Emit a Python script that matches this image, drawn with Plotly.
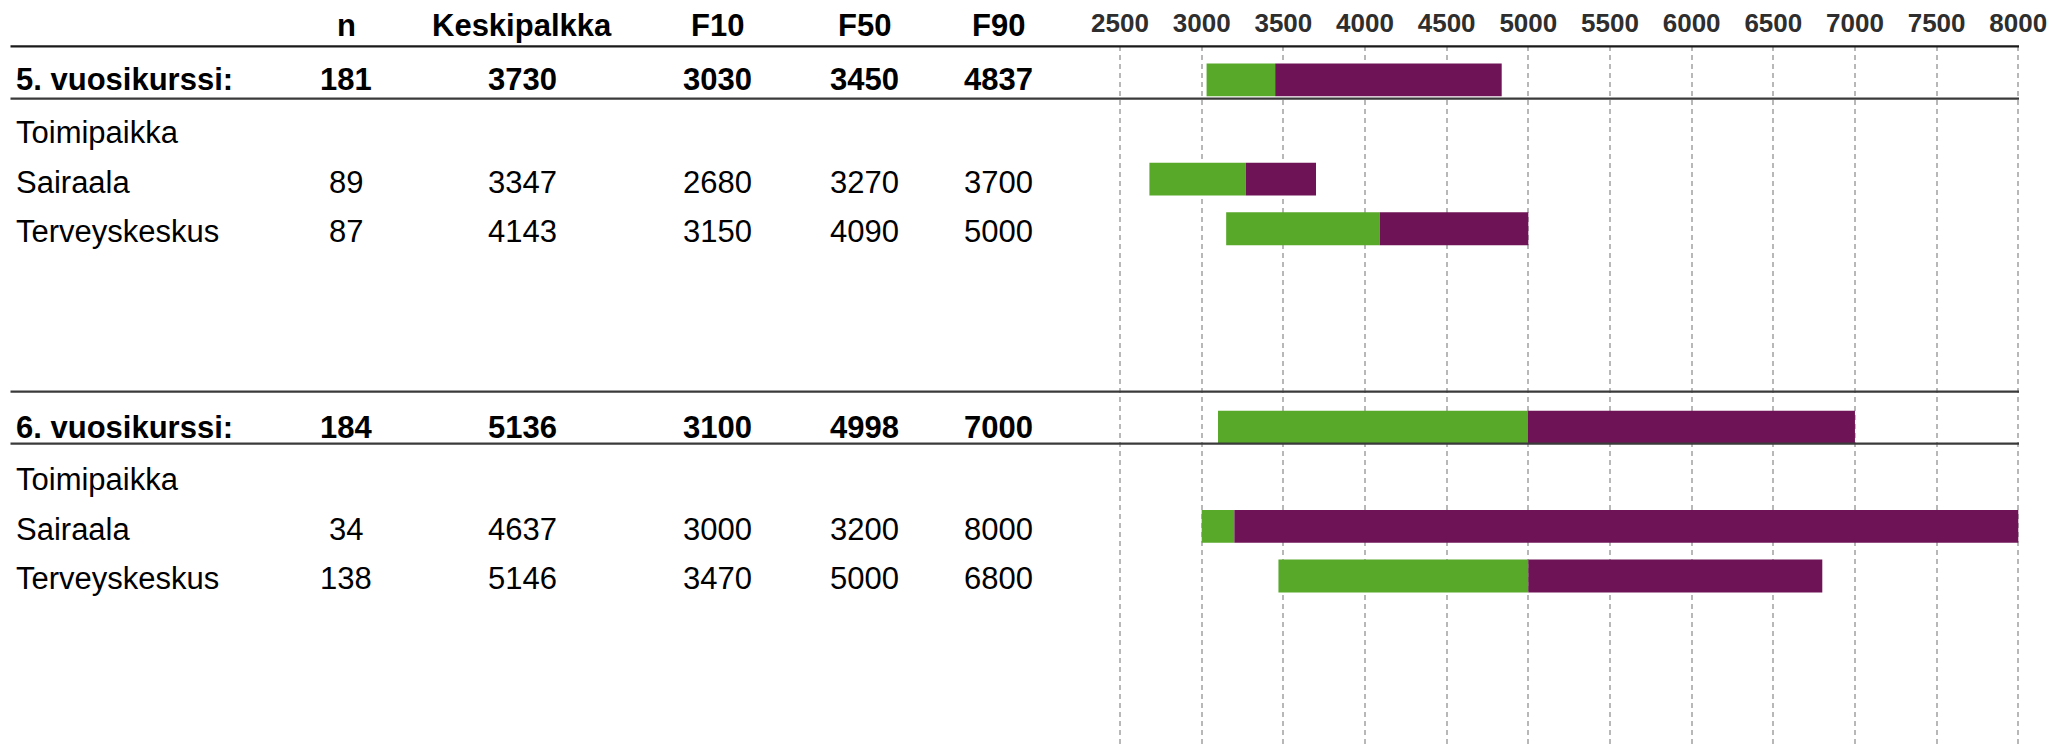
import plotly.graph_objects as go

# ---- data ----
row_labels = ["5. vuosikurssi:", "Toimipaikka", "Sairaala", "Terveyskeskus",
              "6. vuosikurssi:", "Toimipaikka", "Sairaala", "Terveyskeskus"]
row_pos = [0, 1, 2, 3, 7, 8, 9, 10]
row_bold = [True, False, False, False, True, False, False, False]
n_vals = [181, None, 89, 87, 184, None, 34, 138]
keskipalkka = [3730, None, 3347, 4143, 5136, None, 4637, 5146]
f10 = [3030, None, 2680, 3150, 3100, None, 3000, 3470]
f50 = [3450, None, 3270, 4090, 4998, None, 3200, 5000]
f90 = [4837, None, 3700, 5000, 7000, None, 8000, 6800]
columns = ["n", "Keskipalkka", "F10", "F50", "F90"]
tick_vals = [2500, 3000, 3500, 4000, 4500, 5000, 5500, 6000, 6500, 7000, 7500, 8000]

# ---- layout constants (page pixels; the page body adds an 8px offset) ----
OFF = 8
W, H = 2068 - OFF, 747 - OFF
L, R, T, B = 1100, 2040, 44, 747          # plot area in page pixels
PW, PH = R - L, B - T
FONT = "Liberation Sans, Arial, sans-serif"
GREEN = "#58A92A"
PURPLE = "#6E1456"


def px_x(px):
    return (px - L) / PW


def px_y(py):
    return 1 - (py - T) / PH


# bars
ys, b1, w1, b2, w2 = [], [], [], [], []
for y, a, m, c in zip(row_pos, f10, f50, f90):
    if a is None:
        continue
    ys.append(y)
    b1.append(a); w1.append(m - a)
    b2.append(m); w2.append(c - m)

fig = go.Figure()
fig.add_trace(go.Bar(y=ys, x=w1, base=b1, orientation="h", marker_color=GREEN,
                     width=0.663, marker_line_width=0, showlegend=False))
fig.add_trace(go.Bar(y=ys, x=w2, base=b2, orientation="h", marker_color=PURPLE,
                     width=0.663, marker_line_width=0, showlegend=False))

annotations = []
col_px = [346, 522, 717, 864.5, 998.5]
# header
for name, cx in zip(columns, col_px):
    annotations.append(dict(x=px_x(cx), y=px_y(23), xref="paper", yref="paper",
                            text=name, showarrow=False, xanchor="center", yanchor="middle",
                            font=dict(family=FONT, size=31, color="#000", weight="bold")))
# rows
for lab, y, bold, nv, kp, a, m, c in zip(row_labels, row_pos, row_bold, n_vals,
                                          keskipalkka, f10, f50, f90):
    fw = "bold" if bold else "normal"
    ysh = 0 if bold else -3
    annotations.append(dict(x=px_x(14), y=y, xref="paper", yref="y", text=lab,
                            showarrow=False, xanchor="left", yanchor="middle", yshift=ysh,
                            font=dict(family=FONT, size=31, color="#000", weight=fw)))
    for v, cx in zip([nv, kp, a, m, c], col_px):
        if v is None:
            continue
        annotations.append(dict(x=px_x(cx), y=y, xref="paper", yref="y", text=str(v),
                                showarrow=False, xanchor="center", yanchor="middle", yshift=ysh,
                                font=dict(family=FONT, size=31, color="#000", weight=fw)))

shapes = []
for py, col in [(44.3, "#1a1a1a"), (96.7, "#3a3a3a"), (390.7, "#3a3a3a"), (442.7, "#3a3a3a")]:
    shapes.append(dict(type="line", xref="paper", yref="paper",
                       x0=px_x(10.5), x1=px_x(2019), y0=px_y(py), y1=px_y(py),
                       line=dict(color=col, width=2.2), layer="above"))

x_per_px = 500 / 81.6
x_min = 2500 - (1120 - L) * x_per_px
x_max = 8000 + (R - 2018.3) * x_per_px
row_px = 49.75
y_top = (T - 78) / row_px
y_bot = (B - 78) / row_px

fig.update_layout(
    width=W, height=H,
    margin=dict(l=L - OFF, r=2068 - R, t=T - OFF, b=747 - B, pad=0),
    paper_bgcolor="white", plot_bgcolor="white",
    barmode="overlay",
    annotations=annotations, shapes=shapes,
    xaxis=dict(range=[x_min, x_max], side="top", tickvals=tick_vals,
               ticktext=[str(v) for v in tick_vals], showgrid=True,
               gridcolor="#b8b8b8", gridwidth=1.6, griddash="5px,4px",
               zeroline=False, showline=False, ticks="", ticklabelstandoff=8,
               tickfont=dict(family=FONT, size=26, color="#2e2e2e", weight="bold")),
    yaxis=dict(range=[y_bot, y_top], showgrid=False, zeroline=False,
               showticklabels=False, showline=False, ticks=""),
)

fig.write_html("out.html")
